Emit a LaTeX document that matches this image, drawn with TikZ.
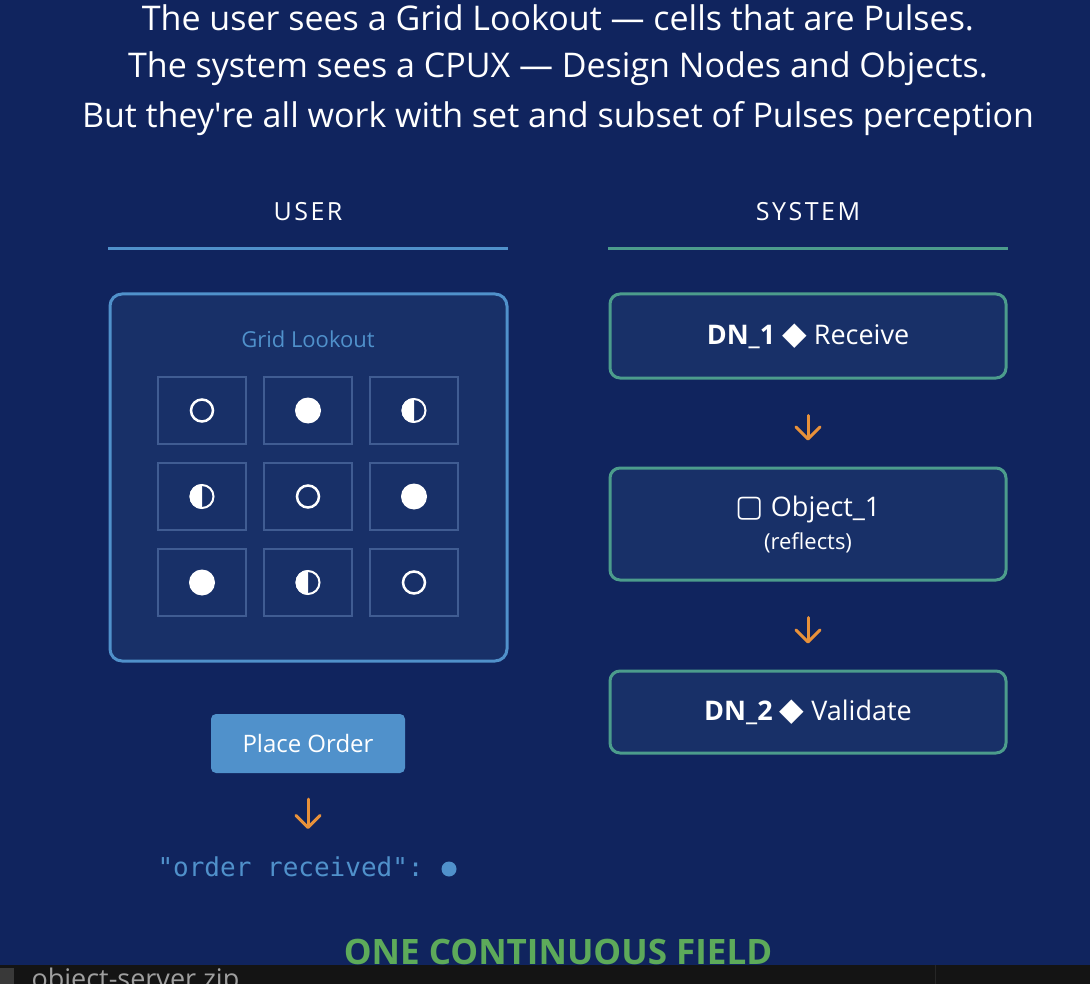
\documentclass[tikz,border=0pt]{standalone}
\usepackage{fontspec}
\setmainfont{Open Sans}
\setmonofont{DejaVu Sans Mono}
\newfontfamily\symfont{DejaVu Sans}
\newfontfamily\spacedfont[LetterSpace=10]{Open Sans}
\usetikzlibrary{arrows.meta}
\definecolor{bgnavy}{HTML}{10245E}
\definecolor{panelblue}{HTML}{183068}
\definecolor{userblue}{HTML}{5091CB}
\definecolor{systeal}{HTML}{4C9C8C}
\definecolor{flowor}{HTML}{E8913A}
\definecolor{fieldgreen}{HTML}{5DAA5A}
\definecolor{cellline}{HTML}{405C92}
\definecolor{barblack}{HTML}{141414}

\begin{document}
\begin{tikzpicture}[x=1pt,y=-1pt,
    cell/.style={draw=cellline,line width=1.5pt,minimum width=88pt,minimum height=67pt,inner sep=0pt},
    dnbox/.style={draw=systeal,line width=3pt,fill=panelblue,rounded corners=10pt,minimum width=396pt,inner sep=0pt,text=white,font=\fontsize{27}{32}\selectfont},
    flow/.style={draw=flowor,line width=3pt,line cap=round,-{Straight Barb[length=12pt,width=24pt,round]}},
    heading/.style={text=white,font=\spacedfont\fontsize{25}{30}\selectfont}]
    \useasboundingbox (0,0) rectangle (1090,984);
    \fill[bgnavy] (0,0) rectangle (1090,984);

    \node[text=white,font=\fontsize{34}{40}\selectfont] (line1) at (558,18) {The user sees a Grid Lookout — cells that are Pulses.};
    \node[text=white,font=\fontsize{34}{40}\selectfont] (line2) at (558,69) {The system sees a CPUX — Design Nodes and Objects.};
    \node[text=white,font=\fontsize{34}{40}\selectfont] (line3) at (558,119) {But they\textquotesingle re all work with set and subset of Pulses perception};

    \node[heading] (userhead) at (308,212) {USER};
    \node[heading] (syshead) at (808,212) {SYSTEM};
    \draw[userblue,line width=3pt] (108,249) -- (508,249);
    \draw[systeal,line width=3pt] (608,249) -- (1008,249);

    \node[draw=userblue,line width=3pt,fill=panelblue,rounded corners=12pt,minimum width=397pt,minimum height=367pt] (grid) at (308.5,477.5) {};
    \node[text=userblue,font=\fontsize{22}{26}\selectfont] (gridtitle) at (308,339) {Grid Lookout};
    \foreach \r [count=\ri] in {410.5,496.5,582.5}
        \foreach \c [count=\ci] in {202,308,414}
            \node[cell] (cell\ri\ci) at (\c,\r) {};
    \foreach \n in {11,22,33}
        \draw[white,line width=2.5pt] (cell\n.center) circle[radius=11];
    \foreach \n in {12,23,31}
        \fill[white] (cell\n.center) circle[radius=13];
    \foreach \n in {13,21,32} {
        \draw[white,line width=2pt] (cell\n.center) circle[radius=11.5];
        \fill[white] (cell\n.center) ++(0,12.5) arc[start angle=90,end angle=270,radius=12.5] -- cycle;
    }

    \node[fill=userblue,rounded corners=5pt,minimum width=194pt,minimum height=59pt,text=white,font=\fontsize{24}{28}\selectfont] (order) at (308,743.5) {Place Order};
    \node[anchor=west,text=userblue,font=\ttfamily\fontsize{26}{30}\selectfont] (recv) at (154,867) {"order received":};
    \node[circle,fill=userblue,minimum size=15pt,inner sep=0pt] (recvdot) at (449,869) {};
    \coordinate (recvtop) at (308,845);
    \draw[flow,shorten <=26pt,shorten >=16pt] (order.south) -- (recvtop);

    \node[dnbox,minimum height=84pt] (dn1) at (808,336) {\textbf{DN\_1} {\symfont\fontsize{32}{32}\selectfont ◆} Receive};
    \node[dnbox,minimum height=112pt,align=center] (obj) at (808,524) {{\symfont\fontsize{30}{30}\selectfont ▢} Object\_1\\[1pt]{\fontsize{22}{26}\selectfont (reflects)}};
    \node[dnbox,minimum height=82pt] (dn2) at (808,712) {\textbf{DN\_2} {\symfont\fontsize{32}{32}\selectfont ◆} Validate};
    \draw[flow,shorten <=36pt,shorten >=26pt] (dn1) -- (obj);
    \draw[flow,shorten <=36pt,shorten >=26pt] (obj) -- (dn2);

    \node[text=fieldgreen,font=\bfseries\fontsize{35}{40}\selectfont] (field) at (558,952) {ONE CONTINUOUS FIELD};

    \fill[barblack] (0,965) rectangle (1090,984);
    \fill[gray!45!black] (0,968) rectangle (14,984);
    \draw[gray!30!black] (935,965) -- (935,984);
    \node[anchor=base west,text=gray!75,font=\fontsize{27}{31}\selectfont] (zipfile) at (28,988) {object-server.zip};
\end{tikzpicture}
\end{document}
